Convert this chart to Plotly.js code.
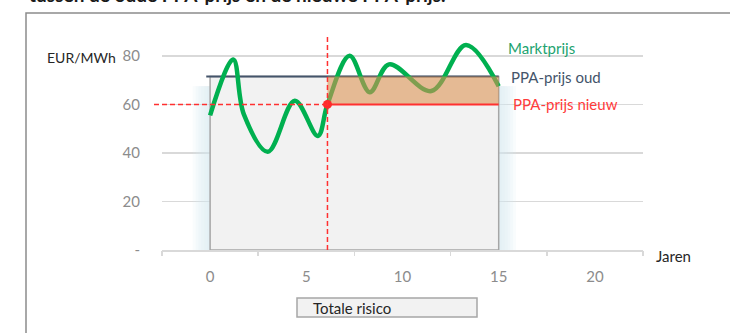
<!DOCTYPE html>
<html>
<head>
<meta charset="utf-8">
<script src="https://cdn.plot.ly/plotly-3.0.1.min.js"></script>
<style>html,body{margin:0;padding:0;background:#fff;}#chart{width:730px;height:333px;}</style>
</head>
<body>
<div id="chart"></div>
<script>
// ---- data ----
const years = [0, 1.2, 1.75, 3.0, 4.4, 5.6, 6.1, 7.25, 8.3, 9.3, 11.5, 13.3, 15];
const marketPrice = [55.5, 78.5, 56, 40.5, 61.5, 47, 60, 80, 65, 76.5, 65.5, 84.5, 67.5];
const ppaOld = 71.5;
const ppaNew = 60;
const contractStart = 0;
const contractEnd = 15;
const switchYear = 6.1;
const xTickVals = [0, 5, 10, 15, 20];
const xTickText = ['0', '5', '10', '15', '20'];
const xCatTicks = [-2.5, 2.5, 7.5, 12.5, 17.5, 22.5];
const yTickVals = [0, 20, 40, 60, 80];
const yTickText = ['-', '20', '40', '60', '80'];
const labels = {market: 'Marktprijs', old: 'PPA-prijs oud', nw: 'PPA-prijs nieuw', unit: 'EUR/MWh', years: 'Jaren', risk: 'Totale risico'};
const topText = 'tussen de oude PPA-prijs en de nieuwe PPA-prijs.';

// ---- layout helpers (pixel -> paper) ----
const W = 730, H = 333, L = 162, R = 87, T = 34, B = 83;
const xRange = [-2.5, 22.5], yRange = [0, 89];
const pw = W - L - R, ph = H - T - B;
const px = p => (p - L) / pw;
const py = p => (H - B - p) / ph;
const dataToPaperX = v => (v - xRange[0]) / (xRange[1] - xRange[0]);

const FONT = 'Lato, "Open Sans", sans-serif';
const traces = [];

// soft glow around the risk box
[0.9, 0.75, 0.6, 0.45, 0.3, 0.15].forEach(k => {
  traces.push({
    x: [contractStart - k, contractEnd + k, contractEnd + k, contractStart - k, contractStart - k],
    y: [0, 0, ppaOld - 4, ppaOld - 4, 0],
    mode: 'lines', fill: 'toself', fillcolor: 'rgba(215,232,240,0.14)',
    line: {width: 0}, hoverinfo: 'skip', showlegend: false
  });
});
// risk box
traces.push({
  x: [contractStart, contractEnd, contractEnd, contractStart, contractStart],
  y: [0, 0, ppaOld, ppaOld, 0],
  mode: 'lines', fill: 'toself', fillcolor: '#f2f2f2',
  line: {color: '#a6a6a6', width: 1.5}, hoverinfo: 'skip', showlegend: false
});
// old PPA price
traces.push({
  x: [contractStart - 0.2, contractEnd], y: [ppaOld, ppaOld],
  mode: 'lines', line: {color: '#44546a', width: 2}, showlegend: false
});
// market price
traces.push({
  x: years, y: marketPrice, mode: 'lines',
  line: {color: '#00b050', width: 4.5, shape: 'spline', smoothing: 1},
  showlegend: false
});
// difference area
traces.push({
  x: [switchYear, contractEnd, contractEnd, switchYear, switchYear],
  y: [ppaNew, ppaNew, ppaOld, ppaOld, ppaNew],
  mode: 'lines', fill: 'toself', fillcolor: 'rgba(218,145,80,0.58)',
  line: {width: 0}, hoverinfo: 'skip', showlegend: false
});
// new PPA price
traces.push({
  x: [switchYear, contractEnd], y: [ppaNew, ppaNew],
  mode: 'lines', line: {color: '#ff3030', width: 2}, showlegend: false
});
traces.push({
  x: [switchYear], y: [ppaNew], mode: 'markers',
  marker: {color: '#ff2a2a', size: 9}, showlegend: false
});
// dummy trace for category-style tick marks
traces.push({x: xRange, y: [0, 0], xaxis: 'x2', mode: 'lines', line: {width: 0}, hoverinfo: 'skip', showlegend: false});

const ann = (text, x, y, color, size, extra) => Object.assign({
  text: text, xref: 'paper', yref: 'paper', x: px(x), y: py(y),
  xanchor: 'left', yanchor: 'middle', showarrow: false,
  font: {family: FONT, size: size || 15, color: color}
}, extra || {});

const layout = {
  width: W, height: H,
  margin: {l: L, r: R, t: T, b: B, pad: 0},
  paper_bgcolor: '#ffffff', plot_bgcolor: '#ffffff',
  showlegend: false,
  font: {family: FONT, size: 15, color: '#8c8c8c'},
  xaxis: {
    range: xRange, tickvals: xTickVals, ticktext: xTickText,
    showgrid: false, zeroline: false, showline: true, linecolor: '#d9d9d9', linewidth: 1.5,
    ticks: '', ticklabelstandoff: 12, tickfont: {family: FONT, size: 15, color: '#8c8c8c'}
  },
  xaxis2: {
    range: xRange, overlaying: 'x', anchor: 'y', side: 'bottom',
    tickvals: xCatTicks, ticks: 'outside', ticklen: 5, tickwidth: 1.5, tickcolor: '#d9d9d9',
    showticklabels: false, showgrid: false, zeroline: false, showline: false
  },
  yaxis: {
    range: yRange, tickvals: yTickVals, ticktext: yTickText,
    showgrid: true, gridcolor: '#d9d9d9', gridwidth: 1.5, zeroline: false, showline: false,
    ticks: '', ticklabelstandoff: 21, tickfont: {family: FONT, size: 15, color: '#8c8c8c'}
  },
  shapes: [
    {type: 'line', xref: 'paper', yref: 'y', x0: px(154), x1: dataToPaperX(switchYear), y0: ppaNew, y1: ppaNew,
     line: {color: '#ff3030', width: 1.5, dash: '5px,3px'}},
    {type: 'line', xref: 'x', yref: 'paper', x0: switchYear, x1: switchYear, y0: 0, y1: 1,
     line: {color: '#ff3030', width: 1.5, dash: '5px,3px'}},
    {type: 'rect', xref: 'paper', yref: 'paper', x0: px(26), x1: px(900), y0: py(500), y1: py(13),
     line: {color: '#8c8c8c', width: 1.5}, fillcolor: 'rgba(0,0,0,0)'},
    {type: 'rect', xref: 'paper', yref: 'paper', x0: px(297), x1: px(477), y0: py(317), y1: py(298),
     line: {color: '#a6a6a6', width: 1.5}, fillcolor: '#f2f2f2'}
  ],
  annotations: [
    ann(labels.unit, 45, 57, '#262626', 14),
    ann(labels.market, 506, 48, '#22a36f', 15),
    ann(labels.old, 509, 77, '#44546a', 15),
    ann(labels.nw, 511, 104, '#ff3b3b', 15),
    ann(labels.years, 654, 256, '#262626', 15),
    ann(labels.risk, 311, 308, '#262626', 15),
    ann(topText, 27, -6, '#1a1a1a', 19, {font: {family: FONT, size: 19, color: '#1a1a1a', weight: 'bold'}})
  ]
};

Plotly.newPlot('chart', traces, layout, {displayModeBar: false, staticPlot: true});
</script>
</body>
</html>
